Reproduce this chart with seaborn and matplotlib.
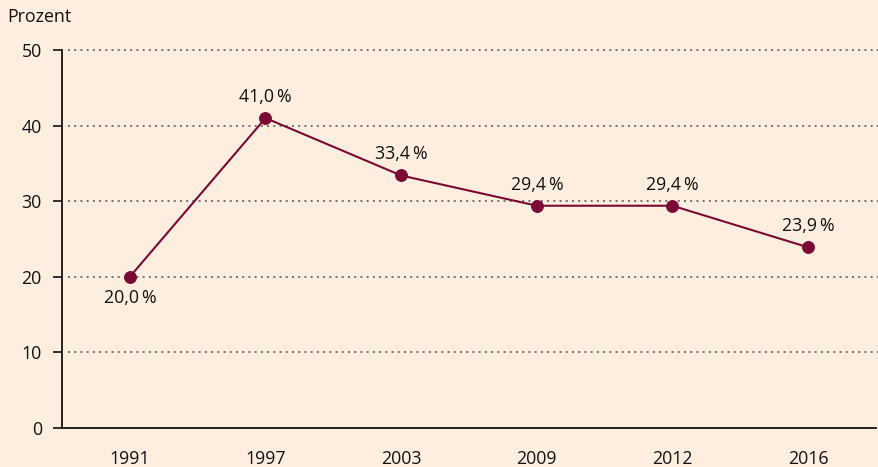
import matplotlib
matplotlib.use("Agg")
import matplotlib.pyplot as plt
import seaborn as sns
import pandas as pd

years = ["1991", "1997", "2003", "2009", "2012", "2016"]
values = [20.0, 41.0, 33.4, 29.4, 29.4, 23.9]
labels = ["20,0\u2009%", "41,0\u2009%", "33,4\u2009%", "29,4\u2009%", "29,4\u2009%", "23,9\u2009%"]
label_below = [True, False, False, False, False, False]
yticks = [0, 10, 20, 30, 40, 50]

bg = "#fdeee0"
col = "#7a0a33"
txt = "#111111"
fs = 12.8

sns.set_theme(style="white")
plt.rcParams['font.family'] = ['Open Sans', 'DejaVu Sans']

df = pd.DataFrame({"x": range(len(years)), "y": values})

fig = plt.figure(figsize=(8.79, 4.67), dpi=100, facecolor=bg)
ax = fig.add_axes([62/879, 39/467, (876-62)/879, (428-50)/467])
ax.set_facecolor(bg)

for t in yticks[1:]:
    ax.axhline(t, color="#707070", linestyle=(0, (1, 2.2)), linewidth=1.4, zorder=1,
               clip_on=False, xmin=0.007, xmax=1.003)

sns.lineplot(data=df, x="x", y="y", ax=ax, color=col, linewidth=1.5, marker="o",
             markersize=8.5, markeredgecolor=col, markerfacecolor=col, zorder=3)

for i, (v, lab, below) in enumerate(zip(values, labels, label_below)):
    off = -21 if below else 21
    ax.annotate(lab, (i, v), xytext=(0, off), textcoords="offset pixels",
                ha="center", va="center", fontsize=fs, color=txt)

ax.set_xlim(-0.5, 5.5)
ax.set_ylim(0, 50)
ax.set_xticks(range(len(years)))
ax.set_xticklabels(years)
ax.set_yticks(yticks)
ax.tick_params(axis="y", length=6.5, width=1.2, color=txt, labelsize=fs, labelcolor=txt, pad=8, left=True, direction="out")
ax.tick_params(axis="x", length=0, labelsize=fs, labelcolor=txt, pad=16)
ax.set_xlabel("")
ax.set_ylabel("")
for s in ["top", "right"]:
    ax.spines[s].set_visible(False)
for s in ["left", "bottom"]:
    ax.spines[s].set_color(txt)
    ax.spines[s].set_linewidth(1.3)

fig.text(7/879, 1 - 17/467, "Prozent", fontsize=fs, color=txt, va="center", ha="left")

fig.savefig("out.png", dpi=100, facecolor=bg)
